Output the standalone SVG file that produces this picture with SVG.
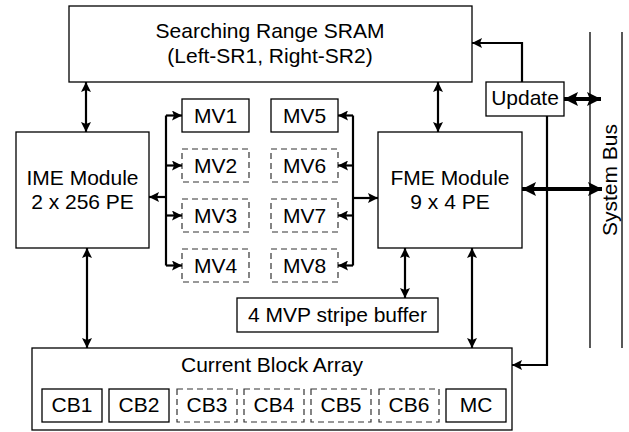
<svg xmlns="http://www.w3.org/2000/svg" width="629" height="432" viewBox="0 0 629 432">
<style>
.box{fill:#fff;stroke:#000;stroke-width:1.3}
.dbox{fill:#fff;stroke:#333;stroke-width:1.2;stroke-dasharray:6,4}
.t{font-family:"Liberation Sans",Arial,sans-serif;font-size:21px;fill:#000;text-anchor:middle}
.c{fill:none;stroke:#000;stroke-width:2.2}
.ck{fill:none;stroke:#000;stroke-width:4}
.bus{fill:none;stroke:#000;stroke-width:1.3}
</style>
<defs>
<marker id="ah" viewBox="0 0 10 10" refX="10" refY="5" markerWidth="12" markerHeight="10" markerUnits="userSpaceOnUse" orient="auto-start-reverse">
<path d="M0,0 L10,5 L0,10 L2,5 z" fill="#000"/>
</marker>
<marker id="ahb" viewBox="0 0 10 10" refX="10" refY="5" markerWidth="14" markerHeight="15" markerUnits="userSpaceOnUse" orient="auto-start-reverse">
<path d="M0,0 L10,5 L0,10 L2,5 z" fill="#000"/>
</marker>
</defs>

<g id="sram"><rect class="box" x="69" y="6" width="403" height="76"/>
<text class="t" x="270" y="38">Searching Range SRAM</text>
<text class="t" x="270" y="63">(Left-SR1, Right-SR2)</text></g>

<g id="update"><rect class="box" x="486" y="82" width="78" height="34"/>
<text class="t" x="525" y="105">Update</text></g>

<g id="ime"><rect class="box" x="16" y="132" width="133" height="116"/>
<text class="t" x="82.5" y="185">IME Module</text>
<text class="t" x="82.5" y="209">2 x 256 PE</text></g>

<g id="fme"><rect class="box" x="378" y="132" width="144" height="116"/>
<text class="t" x="450" y="185">FME Module</text>
<text class="t" x="450" y="209">9 x 4 PE</text></g>

<g id="mv1"><rect class="box" x="182" y="99" width="67" height="33"/><text class="t" x="215.5" y="123">MV1</text></g>
<g id="mv2"><rect class="dbox" x="182" y="149" width="67" height="33"/><text class="t" x="215.5" y="173">MV2</text></g>
<g id="mv3"><rect class="dbox" x="182" y="199" width="67" height="33"/><text class="t" x="215.5" y="223">MV3</text></g>
<g id="mv4"><rect class="dbox" x="182" y="249" width="67" height="33"/><text class="t" x="215.5" y="273">MV4</text></g>
<g id="mv5"><rect class="box" x="271" y="99" width="67" height="33"/><text class="t" x="304.5" y="123">MV5</text></g>
<g id="mv6"><rect class="dbox" x="271" y="149" width="67" height="33"/><text class="t" x="304.5" y="173">MV6</text></g>
<g id="mv7"><rect class="dbox" x="271" y="199" width="67" height="33"/><text class="t" x="304.5" y="223">MV7</text></g>
<g id="mv8"><rect class="dbox" x="271" y="249" width="67" height="33"/><text class="t" x="304.5" y="273">MV8</text></g>

<g id="stripe"><rect class="box" x="237" y="298" width="201" height="34"/>
<text class="t" x="337.5" y="322">4 MVP stripe buffer</text></g>

<g id="cba"><rect class="box" x="32" y="348" width="480" height="82"/>
<text class="t" x="272" y="372">Current Block Array</text></g>
<g id="cb1"><rect class="box" x="42" y="389" width="60" height="33"/><text class="t" x="72" y="412">CB1</text></g>
<g id="cb2"><rect class="box" x="109" y="389" width="60" height="33"/><text class="t" x="139" y="412">CB2</text></g>
<g id="cb3"><rect class="dbox" x="177" y="389" width="60" height="33"/><text class="t" x="207" y="412">CB3</text></g>
<g id="cb4"><rect class="dbox" x="244" y="389" width="60" height="33"/><text class="t" x="274" y="412">CB4</text></g>
<g id="cb5"><rect class="dbox" x="311" y="389" width="60" height="33"/><text class="t" x="341" y="412">CB5</text></g>
<g id="cb6"><rect class="dbox" x="379" y="389" width="60" height="33"/><text class="t" x="409" y="412">CB6</text></g>
<g id="mc"><rect class="box" x="446" y="389" width="60" height="33"/><text class="t" x="476" y="412">MC</text></g>

<g id="systembus">
<path class="bus" d="M590,32 V348 M622,32 V348"/>
<text class="t" transform="translate(617,180) rotate(-90)" x="0" y="0">System Bus</text>
</g>

<g id="connectors">
<path class="c" d="M86,82 V132" marker-start="url(#ah)" marker-end="url(#ah)"/>
<path class="c" d="M438,82 V132" marker-start="url(#ah)" marker-end="url(#ah)"/>
<path class="c" d="M522,82 V43 H472" marker-end="url(#ah)"/>
<path class="ck" d="M564,99 H601" marker-start="url(#ahb)" marker-end="url(#ahb)"/>
<path class="c" d="M166,115.5 V265.5"/>
<path class="c" d="M166,197 H149" marker-end="url(#ah)"/>
<path class="c" d="M166,115.5 H182" marker-end="url(#ah)"/>
<path class="c" d="M166,165.5 H182" marker-end="url(#ah)"/>
<path class="c" d="M166,215.5 H182" marker-end="url(#ah)"/>
<path class="c" d="M166,265.5 H182" marker-end="url(#ah)"/>
<path class="c" d="M353,115.5 V265.5"/>
<path class="c" d="M353,198 H378" marker-end="url(#ah)"/>
<path class="c" d="M353,115.5 H338" marker-end="url(#ah)"/>
<path class="c" d="M353,165.5 H338" marker-end="url(#ah)"/>
<path class="c" d="M353,215.5 H338" marker-end="url(#ah)"/>
<path class="c" d="M353,265.5 H338" marker-end="url(#ah)"/>
<path class="c" d="M405,248 V298" marker-start="url(#ah)" marker-end="url(#ah)"/>
<path class="c" d="M472,248 V348" marker-start="url(#ah)" marker-end="url(#ah)"/>
<path class="c" d="M87,248 V348" marker-start="url(#ah)" marker-end="url(#ah)"/>
<path class="ck" d="M522,189 H602" marker-start="url(#ahb)" marker-end="url(#ahb)"/>
<path class="c" d="M547,116 V365 H512" marker-end="url(#ah)"/>
</g>
</svg>
